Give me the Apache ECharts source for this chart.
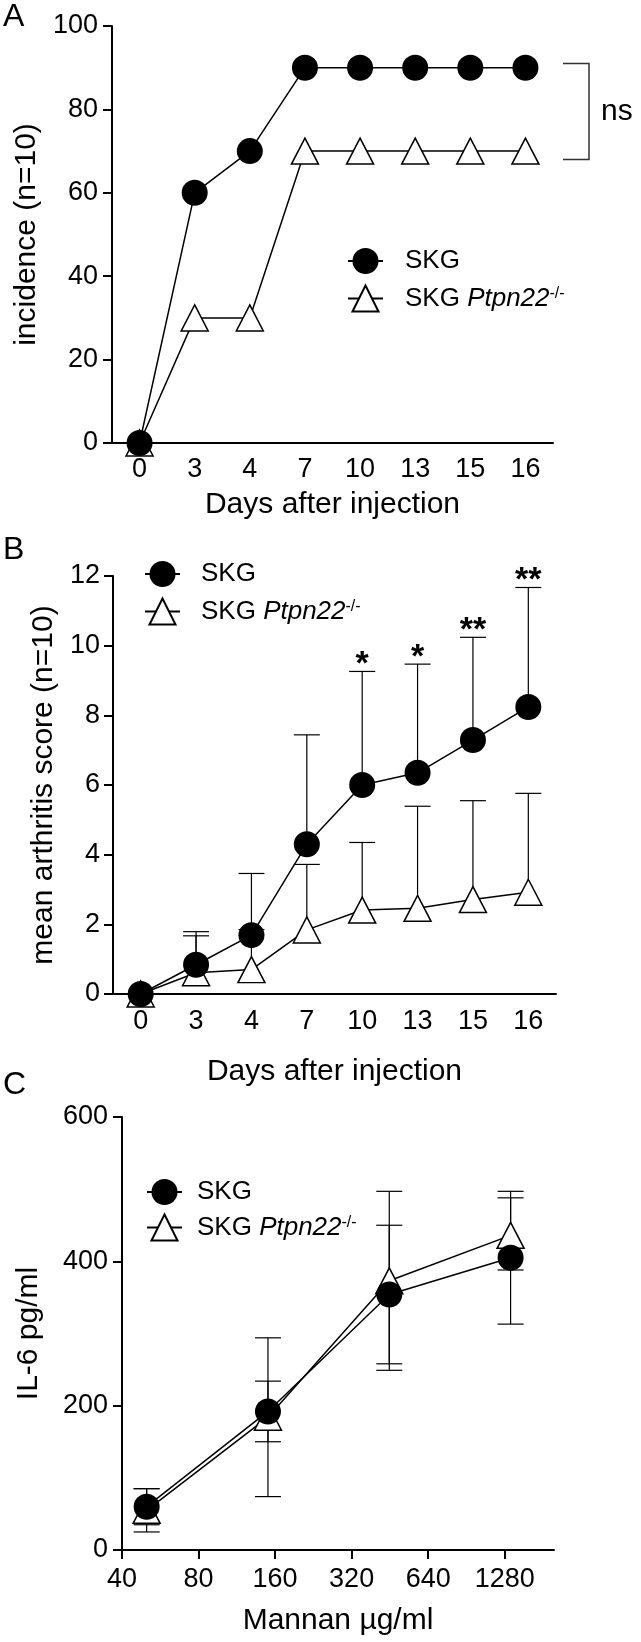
<!DOCTYPE html>
<html><head><meta charset="utf-8">
<script src="https://cdn.jsdelivr.net/npm/echarts@6/dist/echarts.min.js"></script>
<style>html,body{margin:0;padding:0;background:#fff}#c{width:641px;height:1642px}</style>
</head><body><div id="c"></div>
<script>
// ---------- data ----------
const days = ['0', '3', '4', '7', '10', '13', '15', '16'];
const incidenceSKG = [0, 60, 70, 90, 90, 90, 90, 90];
const incidencePtpn = [0, 30, 30, 70, 70, 70, 70, 70];
const nsBracket = [91, 68];

const scoreSKG = [0, 0.84, 1.69, 4.30, 6.00, 6.35, 7.29, 8.24];
const scoreSKGUpper = [null, 1.79, 3.46, 7.44, 9.26, 9.47, 10.24, 11.67];
const scorePtpn = [0, 0.61, 0.70, 1.84, 2.41, 2.46, 2.71, 2.92];
const scorePtpnUpper = [null, 1.67, 1.85, 3.72, 4.35, 5.39, 5.55, 5.76];
const scoreStars = ['', '', '', '', '*', '*', '**', '**'];

const mannanDoses = [50, 150, 450, 1350];
const mannanTicks = [40, 80, 160, 320, 640, 1280];
const mannanAxisMax = 2000;
const il6SKG = [60, 192, 354, 405];
const il6SKGLow = [35, 150, 258, 313];
const il6SKGHigh = [85, 234, 450, 497];
const il6Ptpn = [55, 184, 373, 436];
const il6PtpnLow = [25, 74, 249, 388];
const il6PtpnHigh = [85, 294, 497, 488];

// ---------- helpers ----------
const FONT = '"Liberation Sans", Arial, Helvetica, sans-serif';
const TICK_FS = 27, NAME_FS = 30, LEG_FS = 26;
const BASE = mannanTicks[0];
const lg = v => Math.log2(v / BASE);
const capW = 26;
const errStyle = { stroke: '#000', lineWidth: 1.2 };

function upperErr(params, api) {
  const x = api.value(0);
  const lo = api.coord([x, api.value(1)]);
  const hi = api.coord([x, api.value(2)]);
  return { type: 'group', children: [
    { type: 'line', shape: { x1: lo[0], y1: lo[1], x2: hi[0], y2: hi[1] }, style: errStyle },
    { type: 'line', shape: { x1: hi[0] - capW / 2, y1: hi[1], x2: hi[0] + capW / 2, y2: hi[1] }, style: errStyle }
  ]};
}
function bothErr(params, api) {
  const x = api.value(0);
  const lo = api.coord([x, api.value(1)]);
  const hi = api.coord([x, api.value(2)]);
  return { type: 'group', children: [
    { type: 'line', shape: { x1: lo[0], y1: lo[1], x2: hi[0], y2: hi[1] }, style: errStyle },
    { type: 'line', shape: { x1: hi[0] - capW / 2, y1: hi[1], x2: hi[0] + capW / 2, y2: hi[1] }, style: errStyle },
    { type: 'line', shape: { x1: lo[0] - capW / 2, y1: lo[1], x2: lo[0] + capW / 2, y2: lo[1] }, style: errStyle }
  ]};
}
function starItem(params, api) {
  const p = api.coord([api.value(0), api.value(1)]);
  return { type: 'text', style: { text: scoreStars[api.value(0)], x: p[0], y: p[1] + 10, align: 'center', verticalAlign: 'bottom',
    font: 'bold 34px ' + FONT, fill: '#000' } };
}
function bracketItem(params, api) {
  const cs = params.coordSys;
  const y1 = api.coord([0, api.value(0)])[1];
  const y2 = api.coord([0, api.value(1)])[1];
  const x0 = cs.x + cs.width + 10, x1 = x0 + 26;
  return { type: 'group', children: [
    { type: 'polyline', shape: { points: [[x0, y1], [x1, y1], [x1, y2], [x0, y2]] }, style: { stroke: '#333', lineWidth: 1.5, fill: null } },
    { type: 'text', style: { text: 'ns', x: x1 + 12, y: (y1 + y2) / 2, align: 'left', verticalAlign: 'middle', font: '30px ' + FONT, fill: '#000' } }
  ]};
}

const axisLineStyle = { color: '#000', width: 2 };
function catAxis(grid, name, gap, margin) {
  return { type: 'category', gridIndex: grid, data: days, boundaryGap: true,
    name: name, nameLocation: 'middle', nameGap: gap, nameTextStyle: { fontSize: NAME_FS, color: '#000' },
    axisLine: { lineStyle: axisLineStyle }, axisTick: { alignWithLabel: true, interval: 0, length: 9, lineStyle: axisLineStyle },
    axisLabel: { interval: 0, fontSize: TICK_FS, color: '#000', margin: margin }, splitLine: { show: false } };
}
function valAxis(grid, name, gap, min, max, interval, margin) {
  return { type: 'value', gridIndex: grid, min: min, max: max, interval: interval,
    name: name, nameLocation: 'middle', nameGap: gap, nameTextStyle: { fontSize: NAME_FS, color: '#000' },
    axisLine: { show: true, lineStyle: axisLineStyle }, axisTick: { show: true, length: 9, lineStyle: axisLineStyle },
    axisLabel: { fontSize: TICK_FS, color: '#000', margin: margin }, splitLine: { show: false } };
}
const circleS = { symbol: 'circle', symbolSize: 26, itemStyle: { color: '#000' }, lineStyle: { color: '#000', width: 1.5 } };
const triS = { symbol: 'triangle', symbolSize: [27, 26], itemStyle: { color: '#fff', borderColor: '#000', borderWidth: 1.5 }, lineStyle: { color: '#000', width: 1.5 } };
function legendFmt() {
  return name => name === 'SKG' ? '{n|SKG}' : '{n|SKG }{i|Ptpn22}{s|-/-}';
}
function legendRich(pad) {
  return { n: { fontSize: LEG_FS, color: '#000', padding: [0, 0, 0, pad] },
           i: { fontSize: LEG_FS, color: '#000', fontStyle: 'italic' },
           s: { fontSize: 16, color: '#000', verticalAlign: 'top', lineHeight: 16 } };
}
function legend(left, top, gap, pad) {
  return { data: ['SKG', 'SKG Ptpn22'], orient: 'vertical', left: left, top: top, padding: 0,
    itemWidth: 35, itemHeight: 32.5, itemGap: gap, selectedMode: false,
    formatter: legendFmt(), textStyle: { rich: legendRich(pad) } };
}
const mk = (arrX, arrY) => arrX.map((x, i) => [x, arrY[i]]);

const option = {
  animation: false,
  textStyle: { fontFamily: FONT, color: '#000' },
  title: [
    { text: 'A', left: 3, top: 1, padding: 0, textStyle: { fontSize: 32, fontWeight: 'normal', color: '#000' } },
    { text: 'B', left: 3, top: 534, padding: 0, textStyle: { fontSize: 32, fontWeight: 'normal', color: '#000' } },
    { text: 'C', left: 3, top: 1069, padding: 0, textStyle: { fontSize: 32, fontWeight: 'normal', color: '#000' } }
  ],
  legend: [ legend(347, 248, 10.5, 17), legend(144, 561, 10.5, 16), legend(146, 1179, 8.5, 10) ],
  grid: [
    { left: 112, top: 26, width: 441, height: 417 },
    { left: 113, top: 576, width: 443, height: 418 },
    { left: 122, top: 1117, width: 432, height: 433 }
  ],
  xAxis: [
    catAxis(0, 'Days after injection', 47, 13),
    catAxis(1, 'Days after injection', 63, 14),
    { type: 'value', gridIndex: 2, min: 0, max: lg(mannanAxisMax),
      name: 'Mannan µg/ml', nameLocation: 'middle', nameGap: 56, nameTextStyle: { fontSize: NAME_FS, color: '#000' },
      axisLine: { lineStyle: axisLineStyle },
      axisTick: { length: 9, lineStyle: axisLineStyle, customValues: mannanTicks.map(lg) },
      axisLabel: { fontSize: TICK_FS, color: '#000', margin: 16, customValues: mannanTicks.map(lg),
        formatter: v => String(Math.round(BASE * Math.pow(2, v))) },
      splitLine: { show: false } }
  ],
  yAxis: [
    valAxis(0, 'incidence (n=10)', 56, 0, 100, 20, 14),
    valAxis(1, 'mean arthritis score (n=10)', 53, 0, 12, 2, 13),
    valAxis(2, 'IL-6 pg/ml', 78, 0, 600, 200, 14)
  ],
  series: [
    // Panel A
    { type: 'custom', xAxisIndex: 0, yAxisIndex: 0, renderItem: bracketItem, data: [nsBracket], encode: { y: [0, 1] }, clip: false, silent: true },
    Object.assign({ type: 'line', name: 'SKG Ptpn22', xAxisIndex: 0, yAxisIndex: 0, data: incidencePtpn }, triS),
    Object.assign({ type: 'line', name: 'SKG', xAxisIndex: 0, yAxisIndex: 0, data: incidenceSKG }, circleS),
    // Panel B
    { type: 'custom', xAxisIndex: 1, yAxisIndex: 1, renderItem: upperErr, encode: { x: 0, y: [1, 2] }, silent: true,
      data: scorePtpn.map((v, i) => [i, v, scorePtpnUpper[i]]).filter(d => d[2] !== null) },
    { type: 'custom', xAxisIndex: 1, yAxisIndex: 1, renderItem: upperErr, encode: { x: 0, y: [1, 2] }, silent: true,
      data: scoreSKG.map((v, i) => [i, v, scoreSKGUpper[i]]).filter(d => d[2] !== null) },
    { type: 'custom', xAxisIndex: 1, yAxisIndex: 1, renderItem: starItem, encode: { x: 0, y: 1 }, silent: true, clip: false,
      data: scoreSKGUpper.map((v, i) => [i, v]).filter(d => scoreStars[d[0]] !== '') },
    Object.assign({ type: 'line', name: 'SKG Ptpn22', xAxisIndex: 1, yAxisIndex: 1, data: scorePtpn }, triS),
    Object.assign({ type: 'line', name: 'SKG', xAxisIndex: 1, yAxisIndex: 1, data: scoreSKG }, circleS),
    // Panel C
    { type: 'custom', xAxisIndex: 2, yAxisIndex: 2, renderItem: bothErr, encode: { x: 0, y: [1, 2] }, silent: true,
      data: mannanDoses.map((d, i) => [lg(d), il6PtpnLow[i], il6PtpnHigh[i]]) },
    { type: 'custom', xAxisIndex: 2, yAxisIndex: 2, renderItem: bothErr, encode: { x: 0, y: [1, 2] }, silent: true,
      data: mannanDoses.map((d, i) => [lg(d), il6SKGLow[i], il6SKGHigh[i]]) },
    Object.assign({ type: 'line', name: 'SKG Ptpn22', xAxisIndex: 2, yAxisIndex: 2, data: mk(mannanDoses.map(lg), il6Ptpn) }, triS),
    Object.assign({ type: 'line', name: 'SKG', xAxisIndex: 2, yAxisIndex: 2, data: mk(mannanDoses.map(lg), il6SKG) }, circleS)
  ]
};
const chart = echarts.init(document.getElementById('c'), null, { renderer: 'canvas' });
chart.setOption(option);
</script></body></html>
